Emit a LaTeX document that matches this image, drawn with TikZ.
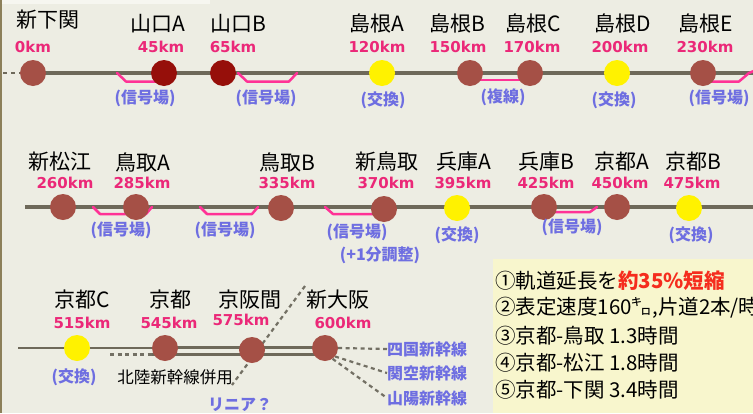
\documentclass[tikz,border=0pt]{standalone}
\usepackage{fontspec}
\setmainfont{Noto Sans CJK JP}
\newfontfamily\kmfont{DejaVu Sans}
\pgfdeclarelayer{back}
\pgfdeclarelayer{mid}
\pgfsetlayers{back,mid,main}
\definecolor{bgc}{RGB}{237,237,227}
\definecolor{topc}{RGB}{246,246,240}
\definecolor{edgec}{RGB}{140,128,90}
\definecolor{trackc}{RGB}{110,105,90}
\definecolor{stac}{RGB}{165,80,70}
\definecolor{darkc}{RGB}{150,15,10}
\definecolor{pinkc}{RGB}{255,50,150}
\definecolor{kmc}{RGB}{235,40,120}
\definecolor{notec}{RGB}{110,110,225}
\definecolor{dashc}{RGB}{115,112,100}
\definecolor{infoc}{RGB}{248,246,205}
\definecolor{redc}{RGB}{245,45,30}
\begin{document}
\begin{tikzpicture}[x=1pt,y=-1pt,
  sta/.style={circle,inner sep=0pt,minimum size=26pt,fill=stac},
  dsta/.style={sta,fill=darkc},
  ysta/.style={sta,fill=yellow},
  sname/.style={inner sep=0pt,font=\fontsize{21}{21}\selectfont,text=black},
  km/.style={inner sep=0pt,font=\kmfont\bfseries\fontsize{15}{15}\selectfont,text=kmc},
  note/.style={inner sep=0pt,font=\bfseries\fontsize{16}{16}\selectfont,text=notec},
  lbl/.style={inner sep=0pt,anchor=west,font=\bfseries\fontsize{16}{16}\selectfont,text=notec},
  track/.style={draw=trackc,line width=3.5pt},
  thin/.style={draw=trackc,line width=2.5pt},
  siding/.style={draw=pinkc,line width=2.5pt,line join=round,line cap=round},
  dline/.style={draw=dashc,line width=2.2pt,dash pattern=on 4pt off 3.5pt},
  info/.style={inner sep=0pt,anchor=west,font=\fontsize{20.5}{20.5}\selectfont,text=black}
]
\useasboundingbox (0,0) rectangle (753,413);
\clip (0,0) rectangle (753,413);
\begin{pgfonlayer}{back}
\fill[bgc] (0,0) rectangle (753,413);
\fill[topc] (0,0) rectangle (210,4);
\fill[edgec] (0,0) rectangle (2,413);
\fill[infoc] (493,259) rectangle (753,413);
\end{pgfonlayer}

% ---------- row 1 ----------
\node[sta]  (s1) at (33,73) {};
\node[dsta] (s2) at (164,73) {};
\node[dsta] (s3) at (223,73) {};
\node[ysta] (s4) at (382,73) {};
\node[sta]  (s5) at (470,73) {};
\node[sta]  (s6) at (530,73) {};
\node[ysta] (s7) at (617,73) {};
\node[sta]  (s8) at (703,73) {};
\coordinate (r1a) at (3,73);
\coordinate (r1b) at (20,73);
\coordinate (r1e) at (753,73);

\node[sname] (n1) at (48,20) {新下関};
\node[sname] (n2) at (158,24) {山口A};
\node[sname] (n3) at (238,24) {山口B};
\node[sname] (n4) at (377,24) {島根A};
\node[sname] (n5) at (457,24) {島根B};
\node[sname] (n6) at (533,24) {島根C};
\node[sname] (n7) at (623,24) {島根D};
\node[sname] (n8) at (706,24) {島根E};

\node[km] (k1) at (33,47) {0km};
\node[km] (k2) at (161,47) {45km};
\node[km] (k3) at (233,47) {65km};
\node[km] (k4) at (377,47) {120km};
\node[km] (k5) at (458,47) {150km};
\node[km] (k6) at (532,47) {170km};
\node[km] (k7) at (620,47) {200km};
\node[km] (k8) at (705,47) {230km};

\node[note] (o1) at (145,98) {(信号場)};
\node[note] (o2) at (266,98) {(信号場)};
\node[note] (o3) at (383,100) {(交換)};
\node[note] (o4) at (503,97) {(複線)};
\node[note] (o5) at (614,100) {(交換)};
\node[note] (o6) at (719,98) {(信号場)};

\begin{pgfonlayer}{mid}
\draw[thin,dash pattern=on 4pt off 4pt] (r1a) -- (r1b);
\draw[track] (s1.center) -- (r1e);
\draw[siding] (117,73) -- (126,81.5) -- (160,81.5);
\draw[siding] (238,73) -- (247,81.5) -- (289,81.5) -- (297,73);
\draw[siding] (476,80) -- (524,80);
\draw[siding] (705,81.5) -- (739,81.5) -- (749,73) -- (756,70);
\end{pgfonlayer}

% ---------- row 2 ----------
\node[sta]  (t1) at (63,207) {};
\node[sta]  (t2) at (136,207) {};
\node[sta]  (t3) at (281,208) {};
\node[sta]  (t4) at (384,209) {};
\node[ysta] (t5) at (457,208) {};
\node[sta]  (t6) at (544,207) {};
\node[sta]  (t7) at (617,207) {};
\node[ysta] (t8) at (689,208) {};
\coordinate (r2a) at (25,207);
\coordinate (r2e) at (753,207);

\node[sname] (m1) at (60,162) {新松江};
\node[sname] (m2) at (143,162) {鳥取A};
\node[sname] (m3) at (287,162) {鳥取B};
\node[sname] (m4) at (387,162) {新鳥取};
\node[sname] (m5) at (464,162) {兵庫A};
\node[sname] (m6) at (546,162) {兵庫B};
\node[sname] (m7) at (622,162) {京都A};
\node[sname] (m8) at (693,162) {京都B};

\node[km] (j1) at (65,183) {260km};
\node[km] (j2) at (142,183) {285km};
\node[km] (j3) at (287,183) {335km};
\node[km] (j4) at (386,183) {370km};
\node[km] (j5) at (463,183) {395km};
\node[km] (j6) at (546,183) {425km};
\node[km] (j7) at (620,183) {450km};
\node[km] (j8) at (692,183) {475km};

\node[note] (p1) at (121,230) {(信号場)};
\node[note] (p2) at (225,230) {(信号場)};
\node[note] (p3) at (357,232) {(信号場)};
\node[note] (p4) at (380,255) {(+1分調整)};
\node[note] (p5) at (457,235) {(交換)};
\node[note] (p6) at (572,227) {(信号場)};
\node[note] (p7) at (691,235) {(交換)};

\begin{pgfonlayer}{mid}
\draw[track] (r2a) -- (r2e);
\draw[siding] (93,207) -- (100,214) -- (146,214) -- (152,207);
\draw[siding] (200,207) -- (207,214) -- (252,214) -- (258,207);
\draw[siding] (325,207) -- (333,214) -- (375,214);
\draw[siding] (548,212) -- (590,212) -- (597,207);
\end{pgfonlayer}

% ---------- row 3 ----------
\node[ysta] (u1) at (77,348) {};
\node[sta]  (u2) at (165,348) {};
\node[sta]  (u3) at (252,350) {};
\node[sta]  (u4) at (325,348) {};
\coordinate (r3a) at (18,348);
\coordinate (ha) at (110,354.5);
\coordinate (hb) at (152,354.5);
\coordinate (hc) at (325,354.5);
\coordinate (ua) at (165,347.5);
\coordinate (ub) at (325,347.5);
\coordinate (lin1) at (305,286);
\coordinate (lin2) at (232,385);

\node[sname] (q1) at (82,300) {京都C};
\node[sname] (q2) at (170,300) {京都};
\node[sname] (q3) at (250,300) {京阪間};
\node[sname] (q4) at (338,300) {新大阪};

\node[km] (g1) at (82,323) {515km};
\node[km] (g2) at (169,323) {545km};
\node[km] (g3) at (241,320) {575km};
\node[km] (g4) at (343,323) {600km};

\node[note] (w1) at (74,377) {(交換)};
\node[inner sep=0pt,font=\fontsize{16.5}{16.5}\selectfont] (w2) at (175,377) {北陸新幹線併用};
\node[note] (w3) at (240,405) {リニア？};
\node[lbl] (x1) at (387,349) {四国新幹線};
\node[lbl] (x2) at (387,373) {関空新幹線};
\node[lbl] (x3) at (387,398) {山陽新幹線};

\begin{pgfonlayer}{mid}
\draw[thin] (r3a) -- (u2.center);
\draw[thin] (ua) -- (ub);
\draw[thin] (hb) -- (hc);
\draw[dline] (ha) -- (hb);
\draw[dline] (lin1) -- (lin2);
\draw[dline] (u4.east) -- (x1.west);
\draw[dline] (u4.-40) -- (x2.west);
\draw[dline] (u4.-55) -- (x3.west);
\end{pgfonlayer}

% ---------- info box ----------
\node[info] (i1) at (495,281) {①軌道延長を{\bfseries\color{redc}約35\%短縮}};
\node[info] (i2) at (495,308) {②表定速度160㌔,片道2本/時};
\node[info] (i3) at (495,336) {③京都-鳥取 1.3時間};
\node[info] (i4) at (495,363) {④京都-松江 1.8時間};
\node[info] (i5) at (495,390) {⑤京都-下関 3.4時間};
\end{tikzpicture}
\end{document}
